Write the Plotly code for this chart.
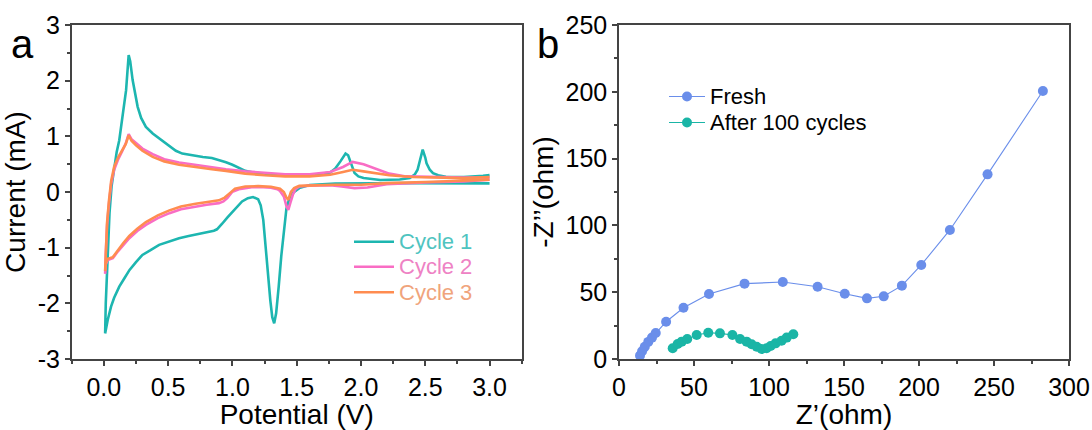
import plotly.graph_objects as go

# ---------------- Panel a: CV curves (scan order: 3.0 V -> 0.01 V -> 3.0 V) ----------------
c1_v = [3.00, 2.70, 2.40, 2.10, 1.80, 1.60, 1.52, 1.48, 1.45, 1.42, 1.40, 1.38, 1.36, 1.34, 1.325,
        1.31, 1.295, 1.28, 1.26, 1.24, 1.22, 1.20, 1.16, 1.12, 1.075, 1.00, 0.96, 0.92, 0.88, 0.856,
        0.80, 0.74, 0.66, 0.585, 0.50, 0.43, 0.36, 0.30, 0.25, 0.20, 0.16, 0.12, 0.08, 0.056, 0.03, 0.01,
        0.015, 0.023, 0.035, 0.044, 0.06, 0.08, 0.10, 0.12, 0.147, 0.173, 0.193, 0.205, 0.224, 0.245,
        0.263, 0.29, 0.327, 0.38, 0.43, 0.50, 0.56, 0.61, 0.70, 0.77, 0.84, 0.895, 0.95, 1.00, 1.05,
        1.10, 1.16, 1.31, 1.50, 1.63, 1.76, 1.80, 1.84, 1.88, 1.90, 1.915, 1.95, 1.98, 2.02, 2.15, 2.30,
        2.38, 2.42, 2.44, 2.46, 2.48, 2.50, 2.51, 2.535, 2.56, 2.60, 2.66, 2.80, 2.895, 2.95, 3.00]
c1_i = [0.155, 0.16, 0.16, 0.155, 0.15, 0.125, 0.07, 0.0, -0.06, -0.30, -0.68, -1.15, -1.70, -2.18, -2.36,
        -2.25, -1.95, -1.58, -1.00, -0.50, -0.24, -0.13, -0.09, -0.11, -0.17, -0.35, -0.46, -0.57, -0.67, -0.695,
        -0.72, -0.75, -0.79, -0.83, -0.89, -0.95, -1.05, -1.13, -1.26, -1.40, -1.55, -1.70, -1.90, -2.06, -2.30, -2.54,
        -2.00, -1.46, -0.80, -0.38, 0.10, 0.45, 0.72, 0.93, 1.35, 1.83, 2.46, 2.35, 2.01, 1.72,
        1.53, 1.33, 1.17, 1.05, 0.96, 0.84, 0.74, 0.69, 0.65, 0.63, 0.61, 0.575, 0.535, 0.49, 0.43,
        0.38, 0.35, 0.31, 0.30, 0.31, 0.35, 0.42, 0.55, 0.69, 0.66, 0.57, 0.34, 0.28, 0.25, 0.215, 0.225,
        0.25, 0.32, 0.40, 0.60, 0.76, 0.62, 0.515, 0.40, 0.34, 0.30, 0.275, 0.27, 0.275, 0.29, 0.305]

c2_v = [3.00, 2.80, 2.50, 2.20, 2.05, 1.95, 1.85, 1.76, 1.60, 1.52, 1.49, 1.47, 1.45, 1.435, 1.42, 1.40,
        1.37, 1.35, 1.30, 1.24, 1.15, 1.05, 1.00, 0.96, 0.93, 0.895, 0.80, 0.714, 0.60, 0.51, 0.42, 0.327,
        0.26, 0.198, 0.15, 0.108, 0.07, 0.03, 0.015, 0.01,
        0.015, 0.025, 0.04, 0.057, 0.08, 0.11, 0.14, 0.17, 0.193, 0.215, 0.25, 0.30, 0.38, 0.47, 0.585,
        0.70, 0.84, 0.95, 1.10, 1.25, 1.41, 1.60, 1.76, 1.86, 1.935, 2.02, 2.12, 2.22, 2.35, 2.53, 2.80, 3.00]
c2_i = [0.22, 0.19, 0.17, 0.14, 0.08, 0.07, 0.10, 0.12, 0.115, 0.10, 0.05, -0.05, -0.20, -0.32, -0.25, -0.08,
        0.02, 0.05, 0.075, 0.085, 0.085, 0.05, 0.005, -0.11, -0.17, -0.20, -0.23, -0.26, -0.31, -0.38, -0.47, -0.59,
        -0.70, -0.83, -0.95, -1.07, -1.19, -1.22, -1.30, -1.47,
        -1.10, -0.60, -0.20, 0.15, 0.40, 0.58, 0.72, 0.87, 1.04, 0.95, 0.88, 0.78, 0.68, 0.59, 0.53,
        0.49, 0.45, 0.41, 0.37, 0.34, 0.32, 0.32, 0.36, 0.45, 0.54, 0.50, 0.41, 0.33, 0.28, 0.27, 0.26, 0.26]

c3_v = [3.00, 2.80, 2.50, 2.20, 2.00, 1.80, 1.60, 1.52, 1.48, 1.455, 1.435, 1.42, 1.40, 1.37, 1.30, 1.20,
        1.10, 1.02, 0.98, 0.94, 0.895, 0.80, 0.714, 0.60, 0.51, 0.42, 0.327, 0.26, 0.198, 0.15, 0.108, 0.07,
        0.03, 0.015, 0.01,
        0.015, 0.025, 0.04, 0.057, 0.08, 0.11, 0.14, 0.17, 0.193, 0.215, 0.25, 0.30, 0.38, 0.47, 0.585,
        0.70, 0.84, 0.95, 1.10, 1.25, 1.41, 1.60, 1.76, 1.86, 1.935, 2.02, 2.22, 2.40, 2.60, 2.80, 3.00]
c3_i = [0.22, 0.20, 0.18, 0.16, 0.13, 0.13, 0.12, 0.11, 0.07, 0.0, -0.14, -0.10, 0.0, 0.06, 0.095, 0.105,
        0.10, 0.06, -0.02, -0.10, -0.15, -0.18, -0.21, -0.26, -0.33, -0.42, -0.54, -0.66, -0.79, -0.92, -1.05, -1.17,
        -1.20, -1.28, -1.42,
        -1.05, -0.55, -0.15, 0.20, 0.45, 0.62, 0.74, 0.86, 1.02, 0.92, 0.84, 0.74, 0.63, 0.55, 0.49,
        0.45, 0.41, 0.38, 0.33, 0.30, 0.28, 0.28, 0.31, 0.36, 0.40, 0.37, 0.30, 0.27, 0.255, 0.25, 0.27]

# ---------------- Panel b: Nyquist plots ----------------
fresh_zr = [14.0, 15.4, 17.2, 19.5, 22.0, 24.5, 31.4, 43.0, 60.0, 83.7, 109.2, 132.4, 150.5, 165.3,
            176.5, 188.6, 201.5, 220.6, 245.7, 282.6]
fresh_zi = [2.5, 5.8, 9.2, 12.8, 16.0, 19.5, 27.9, 38.4, 48.7, 56.4, 57.6, 54.1, 48.9, 45.4,
            46.9, 54.9, 70.4, 96.6, 138.2, 200.6]
aged_zr = [35.8, 39.1, 41.8, 45.5, 51.8, 59.5, 67.3, 75.6, 80.7, 85.1, 88.4, 91.8, 95.1, 98.4,
           101.1, 104.4, 108.4, 111.8, 116.2]
aged_zi = [8.0, 11.2, 13.0, 15.0, 18.0, 19.7, 19.2, 18.0, 15.0, 13.0, 11.0, 9.2, 7.5, 8.0,
           9.7, 11.7, 13.7, 16.0, 18.5]

# tick labels (plain hyphen minus as in the reference)
a_xticks = [0.0, 0.5, 1.0, 1.5, 2.0, 2.5, 3.0]
a_xlabels = ["0.0", "0.5", "1.0", "1.5", "2.0", "2.5", "3.0"]
a_yticks = [-3, -2, -1, 0, 1, 2, 3]
a_ylabels = ["-3", "-2", "-1", "0", "1", "2", "3"]
b_xticks = [0, 50, 100, 150, 200, 250, 300]
b_yticks = [0, 50, 100, 150, 200, 250]

cv_names = ["Cycle 1", "Cycle 2", "Cycle 3"]
cv_colors = ["#1DB6B0", "#F96DC4", "#FF8C50"]
cv_text_colors = ["#4FC4C0", "#EE82C4", "#F0A47C"]
eis_names = ["Fresh", "After 100 cycles"]
eis_colors = ["#6A8EEA", "#1AB5A6"]

FONT = "Arial, Liberation Sans, sans-serif"
W, H = 1092, 430


def px_x(p):
    return p / W


def px_y(p):
    return 1 - p / H


fig = go.Figure()
for v, i, n, c in zip([c1_v, c2_v, c3_v], [c1_i, c2_i, c3_i], cv_names, cv_colors):
    fig.add_trace(go.Scatter(x=v, y=i, mode="lines", line=dict(color=c, width=2.6),
                             name=n, showlegend=False, xaxis="x", yaxis="y"))

for zr, zi, n, c in zip([fresh_zr, aged_zr], [fresh_zi, aged_zi], eis_names, eis_colors):
    fig.add_trace(go.Scatter(x=zr, y=zi, mode="lines+markers", name=n, showlegend=False,
                             line=dict(color=c, width=1.1),
                             marker=dict(color=c, size=10, symbol="circle", line=dict(width=0)),
                             xaxis="x2", yaxis="y2"))

axis_common = dict(showline=True, linecolor="#444", linewidth=1.5, mirror=True,
                   ticks="outside", ticklen=5, tickwidth=1.5, tickcolor="#444",
                   showgrid=False, zeroline=False, automargin=False,
                   tickfont=dict(family=FONT, size=25, color="black"),
                   minor=dict(ticks="outside", ticklen=3, tickwidth=1.5, tickcolor="#444"))

fig.update_layout(
    width=W, height=H, margin=dict(l=0, r=0, t=0, b=0, autoexpand=False),
    paper_bgcolor="white", plot_bgcolor="white",
    font=dict(family=FONT, color="black"),
    showlegend=False,
    xaxis=dict(domain=[px_x(71.7), px_x(521.7)], range=[-0.25, 3.25],
               tickvals=a_xticks, ticktext=a_xlabels, anchor="y",
               title=dict(text="Potential (V)", font=dict(size=28), standoff=6),
               **axis_common),
    yaxis=dict(domain=[px_y(359), px_y(25)], range=[-3, 3],
               tickvals=a_yticks, ticktext=a_ylabels, anchor="x",
               title=dict(text="Current (mA)", font=dict(size=28), standoff=5),
               **axis_common),
    xaxis2=dict(domain=[px_x(619), px_x(1069)], range=[0, 300], tickvals=b_xticks, anchor="y2",
                title=dict(text="Z’(ohm)", font=dict(size=28), standoff=6),
                **axis_common),
    yaxis2=dict(domain=[px_y(359), px_y(25)], range=[0, 250], tickvals=b_yticks, anchor="x2",
                title=dict(text="-Z’’(ohm)", font=dict(size=28), standoff=4),
                **axis_common),
)
fig.update_layout(
    xaxis_minor=dict(tickvals=[x + 0.25 for x in a_xticks[:-1]] + [-0.25, 3.25]),
    yaxis_minor=dict(tickvals=[y + 0.5 for y in a_yticks[:-1]]),
    xaxis2_minor=dict(tickvals=[x + 25 for x in b_xticks[:-1]]),
    yaxis2_minor=dict(tickvals=[y + 25 for y in b_yticks[:-1]]),
)

# ---- legend for panel a (drawn by hand to match the spacing) ----
leg_a_rows = [241.7, 266.7, 292.3]
for n, c, tc, yy in zip(cv_names, cv_colors, cv_text_colors, leg_a_rows):
    fig.add_shape(type="line", xref="paper", yref="paper",
                  x0=px_x(354), x1=px_x(394), y0=px_y(yy), y1=px_y(yy),
                  line=dict(color=c, width=2.6))
    fig.add_annotation(text=n, x=px_x(397), y=px_y(yy), xref="paper", yref="paper",
                       showarrow=False, xanchor="left", yanchor="middle",
                       font=dict(family=FONT, size=22, color=tc))

# ---- legend for panel b ----
leg_b_rows = [96.5, 122.5]
for n, c, yy in zip(eis_names, eis_colors, leg_b_rows):
    fig.add_shape(type="line", xref="paper", yref="paper",
                  x0=px_x(669), x1=px_x(705), y0=px_y(yy), y1=px_y(yy),
                  line=dict(color=c, width=1.1))
    fig.add_shape(type="circle", xref="paper", yref="paper",
                  x0=px_x(682), x1=px_x(692), y0=px_y(yy + 5), y1=px_y(yy - 5),
                  fillcolor=c, line=dict(width=0))
    fig.add_annotation(text=n, x=px_x(708), y=px_y(yy), xref="paper", yref="paper",
                       showarrow=False, xanchor="left", yanchor="middle",
                       font=dict(family=FONT, size=22, color="black"))

fig.add_annotation(text="a", x=px_x(22), y=px_y(44), xref="paper", yref="paper",
                   showarrow=False, font=dict(family=FONT, size=40, color="black"),
                   xanchor="center", yanchor="middle")
fig.add_annotation(text="b", x=px_x(548), y=px_y(44), xref="paper", yref="paper",
                   showarrow=False, font=dict(family=FONT, size=40, color="black"),
                   xanchor="center", yanchor="middle")

fig.write_html("out.html",
               config={"displayModeBar": False},
               post_script="document.body.style.margin='0px';document.body.style.overflow='hidden';")
